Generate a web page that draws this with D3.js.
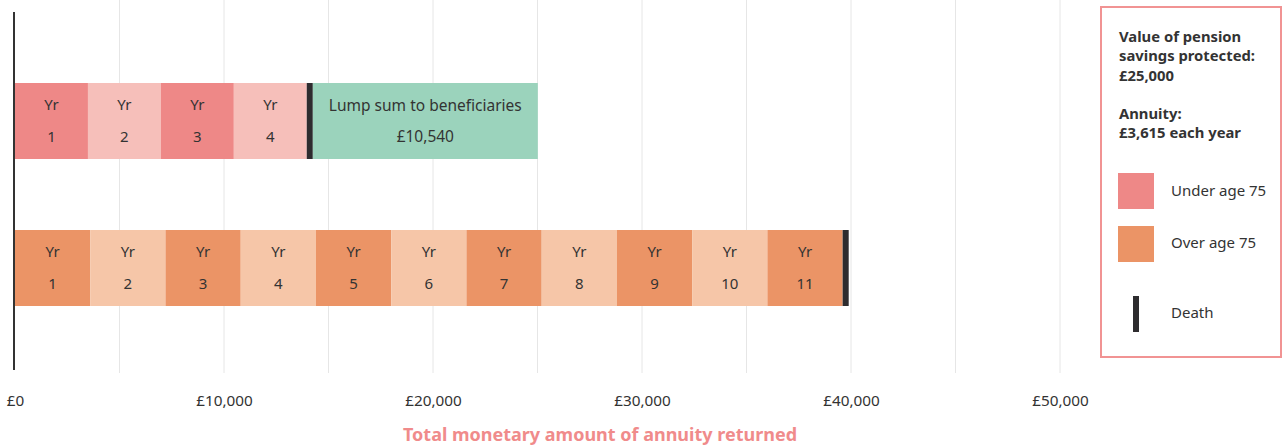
<!DOCTYPE html>
<html>
<head>
<meta charset="utf-8">
<script src="https://cdnjs.cloudflare.com/ajax/libs/d3/7.8.5/d3.min.js"></script>
<style>
    body { margin: 0; background: #fff; }
    text { font-family: "Noto Sans", sans-serif; fill: #333; }
</style>
</head>
<body>
<div id="chart-area"></div>
<script>
// values in £
var underAge75 = [3490, 3490, 3490, 3490];
var overAge75 = [3600, 3600, 3600, 3600, 3600, 3600, 3600, 3600, 3600, 3600, 3600];
var deathWidth = 290;
var lumpSum = 10765;
var lumpLabel = "£10,540";
var xTicks = [0, 10000, 20000, 30000, 40000, 50000];
var gridTicks = [5000, 10000, 15000, 20000, 25000, 30000, 35000, 40000, 45000, 50000];
var legendInfo = ["Value of pension", "savings protected:", "£25,000", "", "Annuity:", "£3,615 each year"];
var legendItems = ["Under age 75", "Over age 75", "Death"];

var colors = {
    under: ["#ee8887", "#f6bfba"],
    over: ["#eb9466", "#f6c6a8"],
    lump: "#9bd3bc",
    death: "#2e2c2f"
};

var svg = d3.select("#chart-area")
    .append("svg")
        .attr("width", 1283)
        .attr("height", 445);

var x = d3.scaleLinear()
    .domain([0, 50000])
    .range([15, 1060]);

// gridlines
svg.selectAll("line.grid")
    .data(gridTicks)
    .enter()
    .append("line")
        .attr("class", "grid")
        .attr("x1", function(d){ return x(d); })
        .attr("x2", function(d){ return x(d); })
        .attr("y1", 0)
        .attr("y2", 373)
        .attr("stroke", "#e6e6e6")
        .attr("stroke-width", 1);

// x axis labels
var xAxisCall = d3.axisBottom(x)
    .tickValues(xTicks)
    .tickSize(0)
    .tickFormat(function(d){ return "£" + d3.format(",")(d); });

var xAxis = svg.append("g")
    .attr("class", "x axis")
    .attr("transform", "translate(0, 401)")
    .call(xAxisCall);
xAxis.select(".domain").remove();
xAxis.selectAll("text")
    .attr("y", 0)
    .attr("dy", "0.35em")
    .attr("font-size", "15.3px")
    .style("fill", "#333");

// y axis line
svg.append("line")
    .attr("x1", x(0) - 1)
    .attr("x2", x(0) - 1)
    .attr("y1", 12)
    .attr("y2", 370)
    .attr("stroke", "#333")
    .attr("stroke-width", 2);

function stackSegments(values, start) {
    var pos = start;
    return values.map(function(v, i){
        var s = { x0: pos, x1: pos + v, i: i };
        pos += v;
        return s;
    });
}

function drawYears(values, palette, y0, h) {
    var segs = stackSegments(values, 0);
    var g = svg.append("g");
    g.selectAll("rect")
        .data(segs)
        .enter()
        .append("rect")
            .attr("x", function(d){ return x(d.x0); })
            .attr("width", function(d){ return x(d.x1) - x(d.x0); })
            .attr("y", y0)
            .attr("height", h)
            .attr("fill", function(d){ return palette[d.i % 2]; });
    g.selectAll("text.yr")
        .data(segs)
        .enter()
        .append("text")
            .attr("class", "yr")
            .attr("x", function(d){ return (x(d.x0) + x(d.x1)) / 2; })
            .attr("y", y0 + 22)
            .attr("dy", "0.35em")
            .attr("text-anchor", "middle")
            .attr("font-size", "15px")
            .text("Yr");
    g.selectAll("text.num")
        .data(segs)
        .enter()
        .append("text")
            .attr("class", "num")
            .attr("x", function(d){ return (x(d.x0) + x(d.x1)) / 2; })
            .attr("y", y0 + 54)
            .attr("dy", "0.35em")
            .attr("text-anchor", "middle")
            .attr("font-size", "15px")
            .text(function(d){ return d.i + 1; });
    return segs[segs.length - 1].x1;
}

// top bar: under age 75
var topEnd = drawYears(underAge75, colors.under, 83, 76);
svg.append("rect")
    .attr("x", x(topEnd))
    .attr("width", x(topEnd + deathWidth) - x(topEnd))
    .attr("y", 83)
    .attr("height", 76)
    .attr("fill", colors.death);
var lumpStart = topEnd + deathWidth;
svg.append("rect")
    .attr("x", x(lumpStart))
    .attr("width", x(lumpStart + lumpSum) - x(lumpStart))
    .attr("y", 83)
    .attr("height", 76)
    .attr("fill", colors.lump);
svg.append("text")
    .attr("x", (x(lumpStart) + x(lumpStart + lumpSum)) / 2)
    .attr("y", 106)
    .attr("dy", "0.35em")
    .attr("text-anchor", "middle")
    .attr("font-size", "15.5px")
    .text("Lump sum to beneficiaries");
svg.append("text")
    .attr("x", (x(lumpStart) + x(lumpStart + lumpSum)) / 2)
    .attr("y", 137)
    .attr("dy", "0.35em")
    .attr("text-anchor", "middle")
    .attr("font-size", "15.5px")
    .text(lumpLabel);

// bottom bar: over age 75
var botEnd = drawYears(overAge75, colors.over, 230, 76);
svg.append("rect")
    .attr("x", x(botEnd))
    .attr("width", x(botEnd + deathWidth) - x(botEnd))
    .attr("y", 230)
    .attr("height", 76)
    .attr("fill", colors.death);

// axis title
svg.append("text")
    .attr("x", 600)
    .attr("y", 435)
    .attr("dy", "0.35em")
    .attr("text-anchor", "middle")
    .attr("font-size", "18px")
    .attr("font-weight", "bold")
    .style("fill", "#f08b8b")
    .text("Total monetary amount of annuity returned");

// legend box
var legend = svg.append("g");
legend.append("rect")
    .attr("x", 1101)
    .attr("y", 7)
    .attr("width", 180)
    .attr("height", 350)
    .attr("fill", "#fff")
    .attr("stroke", "#f19393")
    .attr("stroke-width", 2);

legend.selectAll("text.info")
    .data(legendInfo)
    .enter()
    .append("text")
        .attr("class", "info")
        .attr("x", 1119)
        .attr("y", function(d, i){ return 37 + i * 19.2; })
        .attr("dy", "0.35em")
        .attr("font-size", "14.8px")
        .attr("font-weight", "bold")
        .text(function(d){ return d; });

legend.append("rect")
    .attr("x", 1118).attr("y", 173)
    .attr("width", 36).attr("height", 36)
    .attr("fill", colors.under[0]);
legend.append("rect")
    .attr("x", 1118).attr("y", 226)
    .attr("width", 36).attr("height", 36)
    .attr("fill", colors.over[0]);
legend.append("rect")
    .attr("x", 1133).attr("y", 296)
    .attr("width", 6).attr("height", 36)
    .attr("fill", colors.death);

legend.selectAll("text.item")
    .data(legendItems)
    .enter()
    .append("text")
        .attr("class", "item")
        .attr("x", 1171)
        .attr("y", function(d, i){ return [191, 243, 313][i]; })
        .attr("dy", "0.35em")
        .attr("font-size", "15px")
        .text(function(d){ return d; });
</script>
</body>
</html>
